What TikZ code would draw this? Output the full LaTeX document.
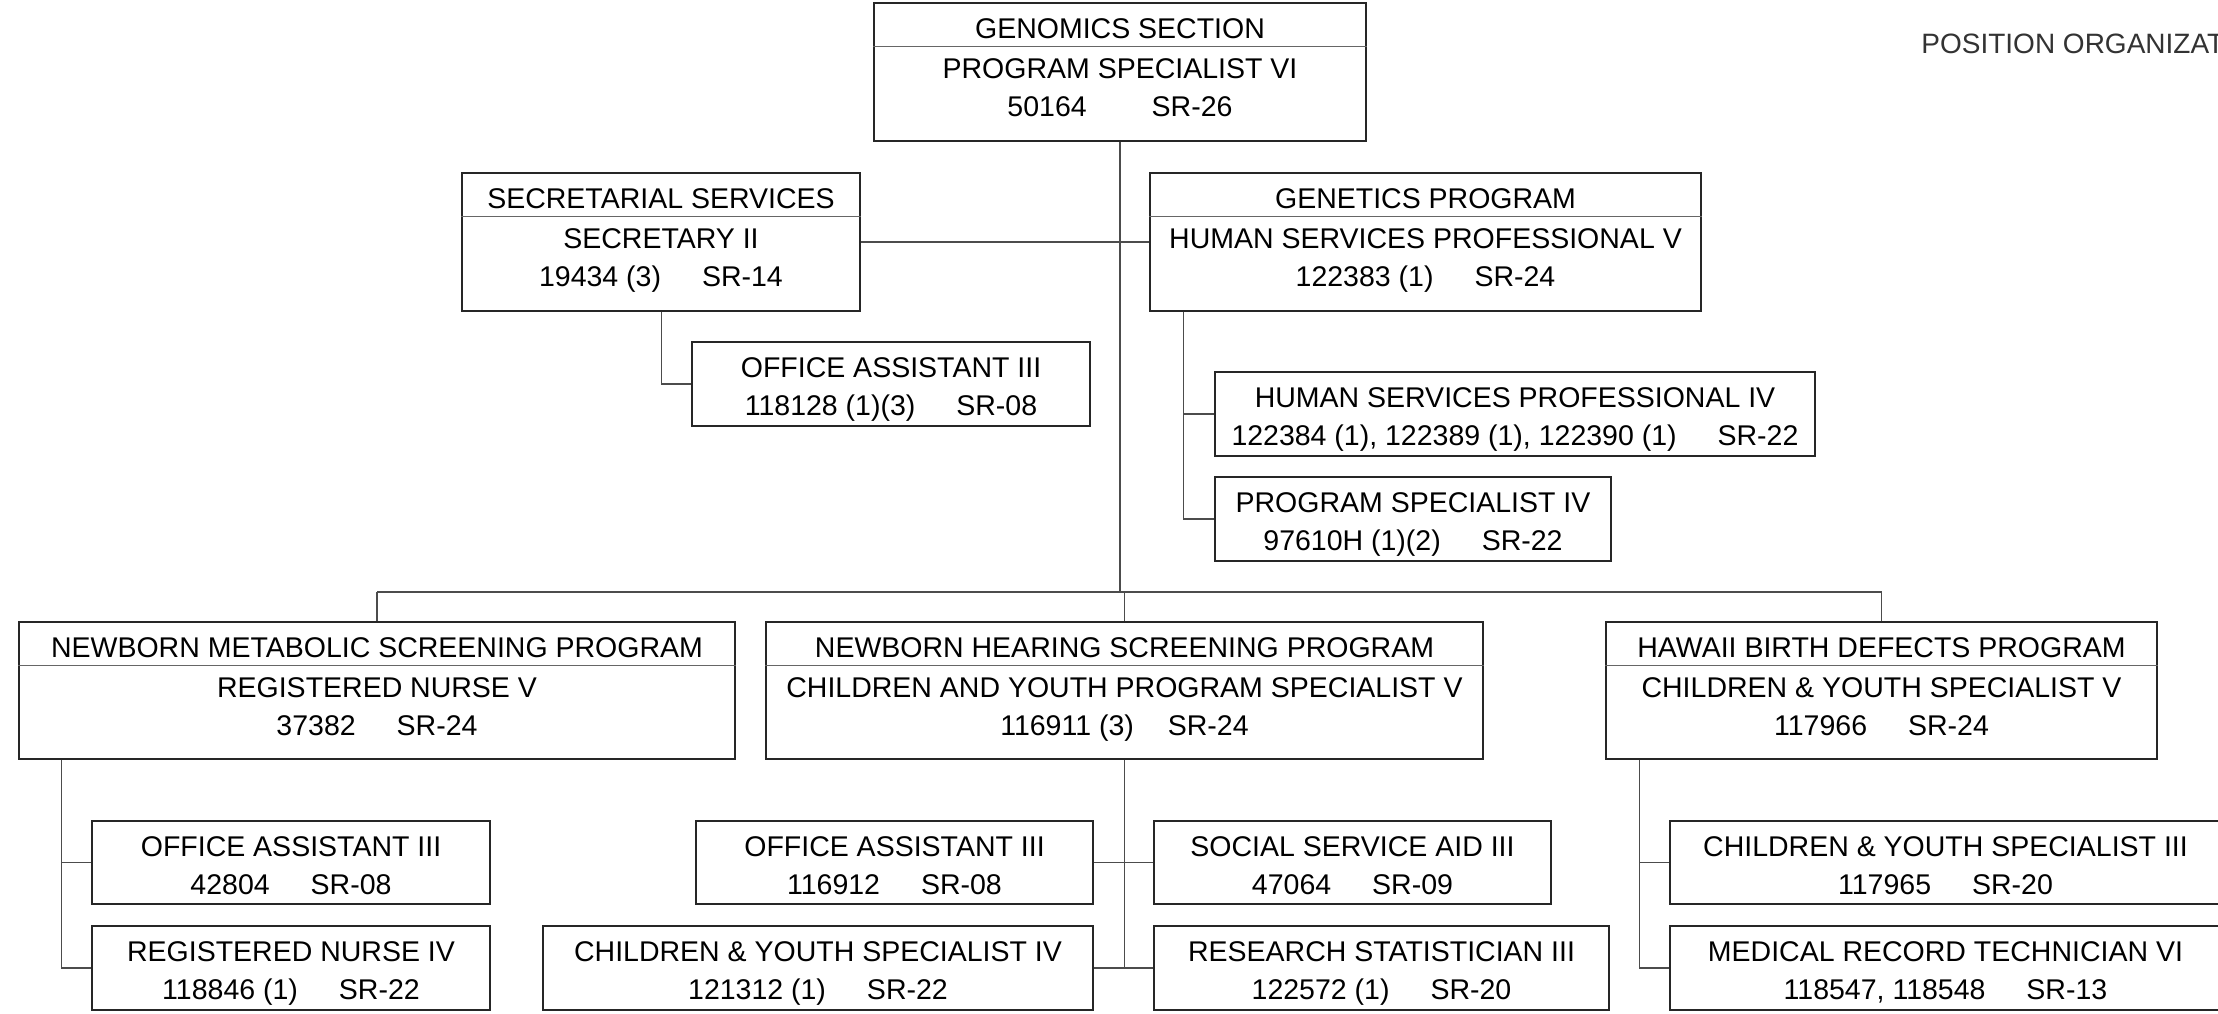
\documentclass[tikz,border=0pt]{standalone}
\usepackage{fontspec}
\setmainfont{Liberation Sans}
\usetikzlibrary{fit,calc}
\tikzset{
  orgbox/.style={draw=black!85, line width=0.65pt, inner sep=0pt},
  divline/.style={draw=black!60, line width=0.75pt},
  conn/.style={draw=black!70, line width=0.7pt},
  lbl/.style={anchor=base, inner sep=0pt, font=\fontsize{14.25pt}{17pt}\selectfont},
  titlelbl/.style={anchor=base west, inner sep=0pt, text=black!80, font=\fontsize{14pt}{17pt}\selectfont},
}
\newcommand\gap{\hspace{20.5pt}}
% name, left, top, right, bottom, line1, line2, line3
\newcommand\boxthree[8]{%
  \node[orgbox, fit={(#2,#3) (#4,#5)}] (#1) {};
  \draw[divline] ($(#1.north west)+(0,44)$) -- ($(#1.north east)+(0,44)$);
  \node[lbl] (#1-a) at ($(#1.north)+(0,36)$) {#6};
  \node[lbl] (#1-b) at ($(#1.north)+(0,76)$) {#7};
  \node[lbl] (#1-c) at ($(#1.north)+(0,114)$) {#8};
}
% name, left, top, right, bottom, line1, line2
\newcommand\boxtwo[7]{%
  \node[orgbox, fit={(#2,#3) (#4,#5)}] (#1) {};
  \node[lbl] (#1-a) at ($(#1.north)+(0,36)$) {#6};
  \node[lbl] (#1-b) at ($(#1.north)+(0,74)$) {#7};
}
\begin{document}
\begin{tikzpicture}[x=0.5pt,y=-0.5pt]
\useasboundingbox (0,0) rectangle (2218,1013);
\clip (0,0) rectangle (2218,1013);
\fill[white] (0,0) rectangle (2218,1013);

\node[titlelbl] (title) at (1921,53) {POSITION ORGANIZAT};

\boxthree{gsec}{874}{3}{1366}{141}{GENOMICS SECTION}{PROGRAM SPECIALIST VI}{50164\hspace{32.5pt}SR-26}
\boxthree{sec}{462}{173}{860}{311}{SECRETARIAL SERVICES}{SECRETARY II}{19434 (3)\gap SR-14}
\boxthree{gen}{1150}{173}{1701}{311}{GENETICS PROGRAM}{HUMAN SERVICES PROFESSIONAL V}{122383 (1)\gap SR-24}
\boxtwo{oasec}{692}{342}{1090}{426}{OFFICE ASSISTANT III}{118128 (1)(3)\gap SR-08}
\boxtwo{hsp}{1215}{372}{1815}{456}{HUMAN SERVICES PROFESSIONAL IV}{122384 (1), 122389 (1), 122390 (1)\gap SR-22}
\boxtwo{ps}{1215}{477}{1611}{561}{PROGRAM SPECIALIST IV}{97610H (1)(2)\gap SR-22}

\boxthree{nmsp}{19}{622}{735}{759}{NEWBORN METABOLIC SCREENING PROGRAM}{REGISTERED NURSE V}{37382\gap SR-24}
\boxthree{nhsp}{766}{622}{1483}{759}{NEWBORN HEARING SCREENING PROGRAM}{CHILDREN AND YOUTH PROGRAM SPECIALIST V}{116911 (3)\hspace{17pt}SR-24}
\boxthree{hbdp}{1606}{622}{2157}{759}{HAWAII BIRTH DEFECTS PROGRAM}{CHILDREN \& YOUTH SPECIALIST V}{117966\gap SR-24}

\boxtwo{oanm}{92}{821}{490}{904}{OFFICE ASSISTANT III}{42804\gap SR-08}
\boxtwo{rn}{92}{926}{490}{1010}{REGISTERED NURSE IV}{118846 (1)\gap SR-22}
\boxtwo{oanh}{696}{821}{1093}{904}{OFFICE ASSISTANT III}{116912\gap SR-08}
\boxtwo{ssa}{1154}{821}{1551}{904}{SOCIAL SERVICE AID III}{47064\gap SR-09}
\boxtwo{cys}{543}{926}{1093}{1010}{CHILDREN \& YOUTH SPECIALIST IV}{121312 (1)\gap SR-22}
\boxtwo{rs}{1154}{926}{1609}{1010}{RESEARCH STATISTICIAN III}{122572 (1)\gap SR-20}
\boxtwo{cysc}{1670}{821}{2221}{904}{CHILDREN \& YOUTH SPECIALIST III}{117965\gap SR-20}
\boxtwo{mrt}{1670}{926}{2221}{1010}{MEDICAL RECORD TECHNICIAN VI}{118547, 118548\gap SR-13}

% connectors
\coordinate (hbar) at (1120,592);
\draw[conn] (gsec.south) -- (gsec.south |- hbar);
\draw[conn] (nmsp.north |- hbar) -- (hbdp.north |- hbar);
\draw[conn] (nmsp.north |- hbar) -- (nmsp.north);
\draw[conn] (nhsp.north |- hbar) -- (nhsp.north);
\draw[conn] (hbdp.north |- hbar) -- (hbdp.north);
\draw[conn] (sec.east) -- (gen.west);

\coordinate (sx) at ($(sec.south west)+(200,0)$);
\draw[conn] (sx) |- (oasec.west);

\coordinate (gx) at ($(gen.south west)+(34,0)$);
\draw[conn] (gx) |- (ps.west);
\draw[conn] (gx |- hsp.west) -- (hsp.west);

\coordinate (nx) at ($(nmsp.south west)+(43,0)$);
\draw[conn] (nx) |- (rn.west);
\draw[conn] (nx |- oanm.west) -- (oanm.west);

\draw[conn] (nhsp.south) -- (nhsp.south |- cys.east);
\draw[conn] (oanh.east) -- (ssa.west);
\draw[conn] (cys.east) -- (rs.west);

\coordinate (hx) at ($(hbdp.south west)+(34,0)$);
\draw[conn] (hx) |- (mrt.west);
\draw[conn] (hx |- cysc.west) -- (cysc.west);
\end{tikzpicture}
\end{document}
